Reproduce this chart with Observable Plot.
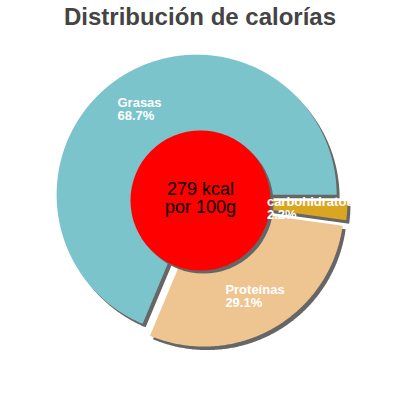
<!DOCTYPE html>
<html><head><meta charset="utf-8">
<script src="https://cdn.jsdelivr.net/npm/d3@7"></script>
<script src="https://cdn.jsdelivr.net/npm/@observablehq/plot@0.6"></script>
<style>
body{margin:0;background:#fff;font-family:"Liberation Sans",Arial,sans-serif;}
#title{width:400px;height:35px;box-sizing:border-box;padding-top:2px;line-height:30px;text-align:center;font-size:24px;font-weight:bold;color:#444;}
</style></head><body>
<div id="title">Distribución de calorías</div>
<div id="chart"></div>
<script>
// Data
const categories = ["carbohidratos", "Proteínas", "Grasas"];
const percents = [2.2, 29.1, 68.7];
const colors = ["#daa520", "#eec591", "#7bc4cc"];
const centerLines = ["279 kcal", "por 100g"];

// Geometry / style
const CX = 200, CY = 200, R = 140, EXPLODE = 7, HOLE = 70, LABEL_R = 110;
const SDX = 3, SDY = 3.5, SHADOW = "#666";
const TOP = 35;
const FONT = "'Liberation Sans', Arial, sans-serif";

const total = d3.sum(percents);
const ends = d3.cumsum(percents);
const slices = categories.map((name, i) => {
  const a0 = (ends[i] - percents[i]) / total * 2 * Math.PI;
  const a1 = ends[i] / total * 2 * Math.PI;
  const mid = (a0 + a1) / 2;
  const ox = CX + EXPLODE * Math.cos(mid), oy = CY + EXPLODE * Math.sin(mid);
  const n = Math.max(2, Math.ceil((a1 - a0) / (Math.PI / 360)));
  const pts = [{x: ox, y: oy}];
  for (let k = 0; k <= n; k++) {
    const t = a0 + (a1 - a0) * k / n;
    pts.push({x: ox + R * Math.cos(t), y: oy + R * Math.sin(t)});
  }
  return {name, pct: percents[i], color: colors[i], mid, pts};
});

// label placement: block centered along mid angle, left-aligned lines
const ctx = document.createElement("canvas").getContext("2d");
ctx.font = "bold 13px " + FONT;
const labels = slices.map(s => {
  const lines = [s.name, s.pct.toFixed(1) + "%"];
  const w = d3.max(lines, l => ctx.measureText(l).width);
  const cx = CX + LABEL_R * Math.cos(s.mid), cy = CY + LABEL_R * Math.sin(s.mid);
  return {x: cx - w / 2, y: cy, text: lines.join("\n")};
});

const marks = [];
for (const s of slices) {
  marks.push(Plot.line(s.pts, {x: d => d.x + SDX, y: d => d.y + SDY, fill: SHADOW, stroke: "none", curve: "linear-closed"}));
}
for (const s of slices) {
  marks.push(Plot.line(s.pts, {x: "x", y: "y", fill: s.color, stroke: "none", curve: "linear-closed"}));
}
marks.push(Plot.dot([{x: CX + 3, y: CY + 3}], {x: "x", y: "y", r: HOLE, fill: SHADOW, stroke: "none"}));
marks.push(Plot.dot([{x: CX, y: CY}], {x: "x", y: "y", r: HOLE, fill: "#ff0000", stroke: "none"}));
marks.push(Plot.text([{x: CX, y: 198, text: centerLines.join("\n")}], {
  x: "x", y: "y", text: "text", fontSize: 18, fill: "#000", lineHeight: 1, textAnchor: "middle", fontFamily: FONT
}));
marks.push(Plot.text(labels, {
  x: "x", y: "y", text: "text", fontSize: 13, fontWeight: "bold", fill: "#fff", lineHeight: 1, textAnchor: "start", fontFamily: FONT
}));

const chart = Plot.plot({
  width: 400, height: 400 - TOP,
  margin: 0,
  x: {domain: [0, 400], range: [0, 400], axis: null},
  y: {domain: [TOP, 400], range: [0, 400 - TOP], axis: null},
  style: {fontFamily: FONT, background: "white"},
  marks
});
document.getElementById("chart").appendChild(chart);
</script>
</body></html>
